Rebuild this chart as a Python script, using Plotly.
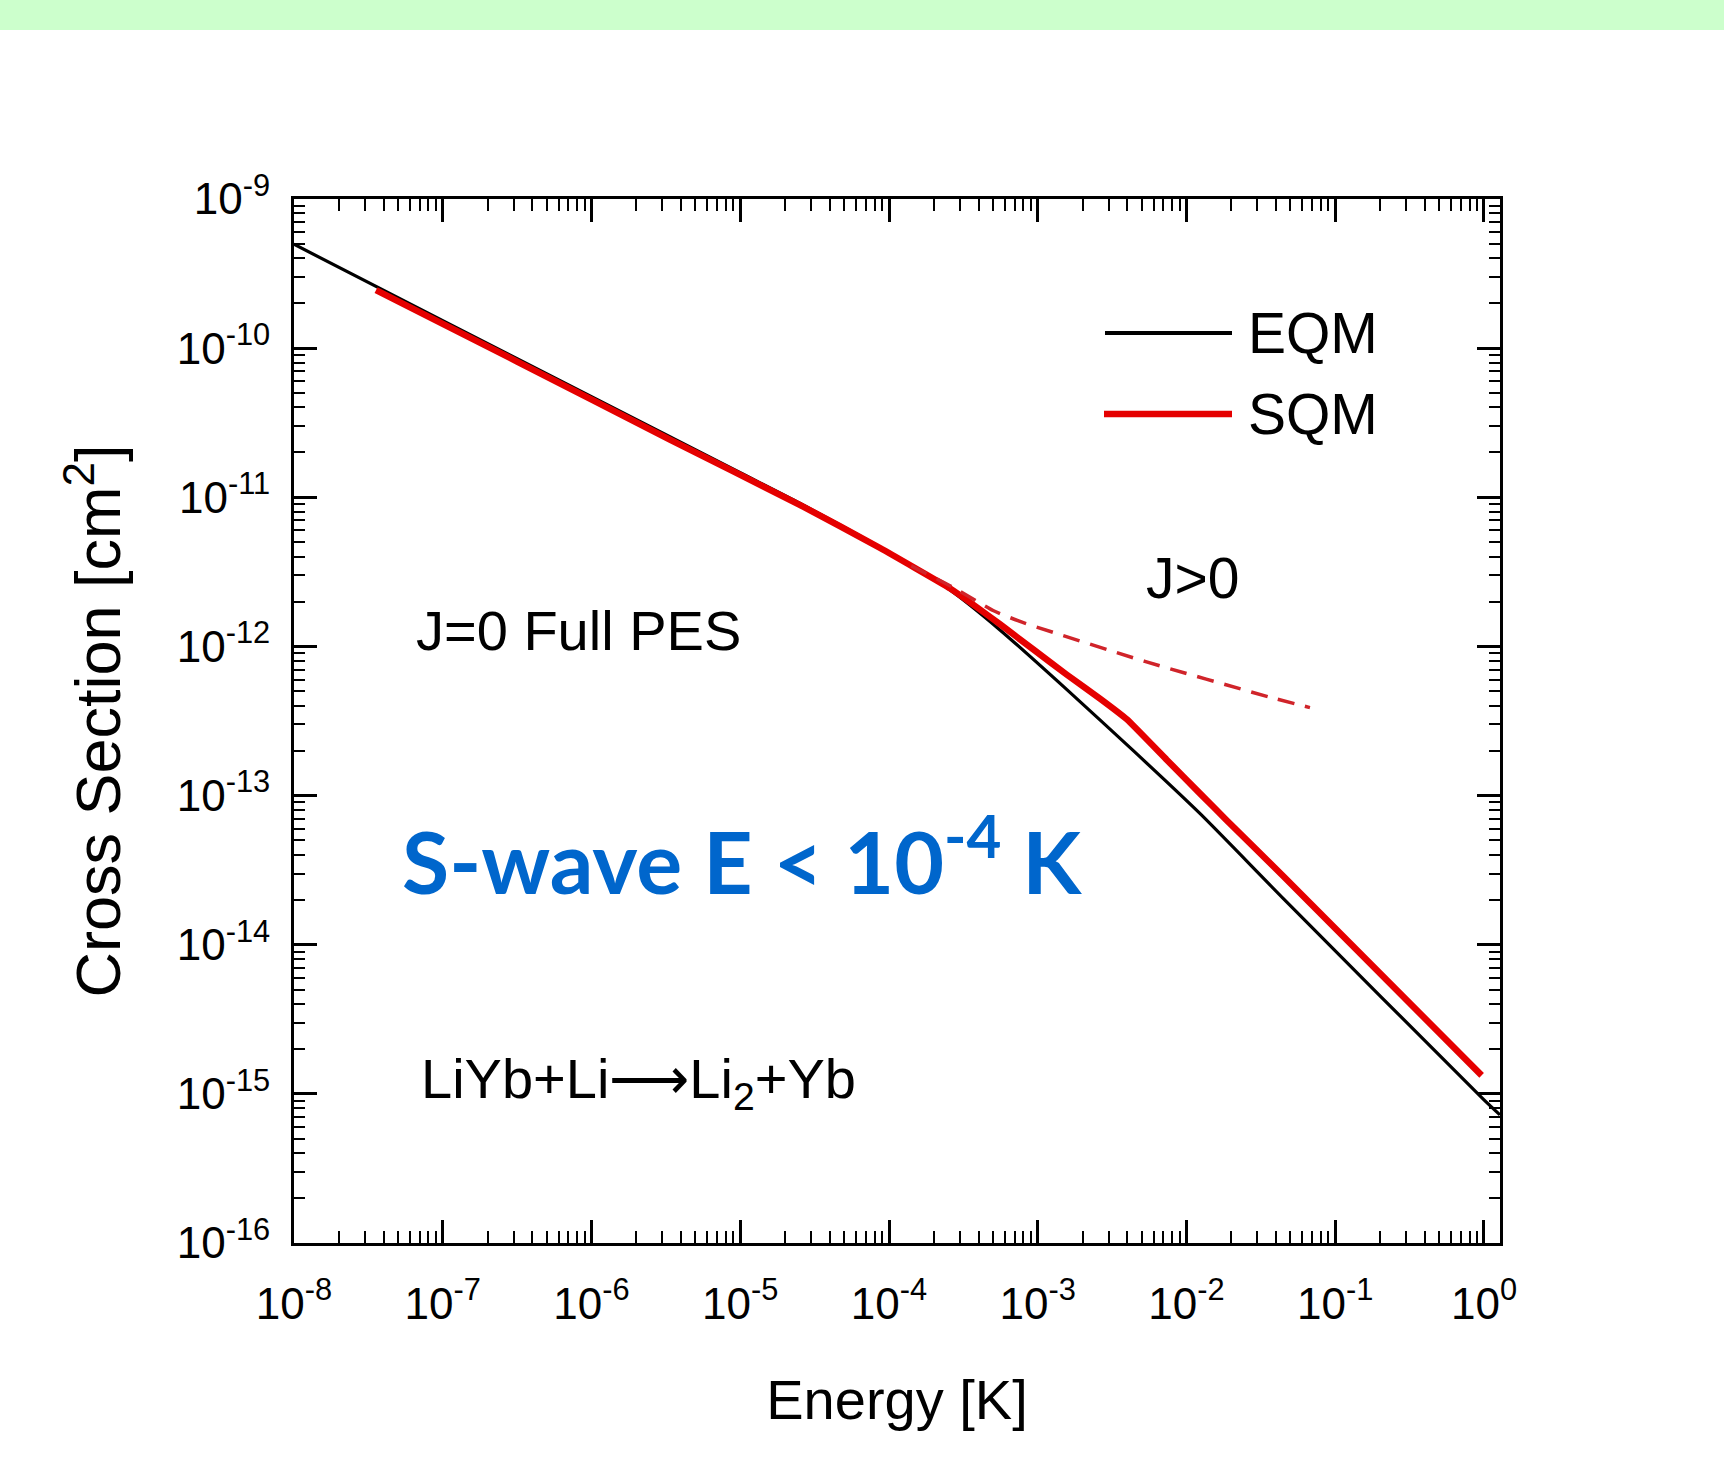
import plotly.graph_objects as go

# ---------------- data ----------------
energy_eqm = [1e-8, 1e-7, 1e-6, 1e-5, 2.51e-5, 1e-4, 2.57e-4, 5.57e-4, 1.57e-3,
              4.39e-3, 1.23e-2, 4.48e-2, 1.0, 1.28]
sigma_eqm = [4.97e-10, 1.53e-10, 4.72e-11, 1.46e-11, 9.12e-12, 4.27e-12, 2.39e-12,
             1.29e-12, 5.13e-13, 2.00e-13, 7.59e-14, 2.04e-14, 9.12e-16, 7.24e-16]

energy_sqm = [3.56e-8, 3.16e-7, 3.39e-6, 2.51e-5, 8.71e-5, 2.57e-4, 5.57e-4, 9.33e-4,
              1.57e-3, 2.62e-3, 3.98e-3, 7.35e-3, 1.23e-2, 1.86e-2, 4.48e-2, 0.964]
sigma_sqm = [2.45e-10, 8.13e-11, 2.43e-11, 8.91e-12, 4.57e-12, 2.45e-12, 1.41e-12,
             9.55e-13, 6.46e-13, 4.47e-13, 3.24e-13, 1.74e-13, 1.035e-13, 6.84e-14,
             2.88e-14, 1.33e-15]

energy_jgt0 = [1.41e-4, 2.82e-4, 5.01e-4, 7.76e-4, 5.25e-3, 3.63e-2, 6.76e-2]
sigma_jgt0 = [3.47e-12, 2.43e-12, 1.74e-12, 1.46e-12, 7.94e-13, 4.57e-13, 3.89e-13]

x_exponents = [-8, -7, -6, -5, -4, -3, -2, -1, 0]
y_exponents = [-16, -15, -14, -13, -12, -11, -10, -9]
x_ticktext = ["10<sup>%d</sup>" % e for e in x_exponents]
y_ticktext = ["10<sup>%d</sup>" % e for e in y_exponents]

# ---------------- styling / geometry ----------------
W, H = 1724, 1464
L, R, T, B = 294, 1500, 199, 1243  # plot area in pixels
NARROW = "Liberation Sans Narrow, Arial Narrow, Liberation Sans, Arial, sans-serif"
REG = "Liberation Sans, Arial, sans-serif"
RED = "#E50000"


def px(xpix):
    return (xpix - L) / (R - L)


def py(ypix):
    return (B - ypix) / (B - T)


def minor_vals(exps):
    out = []
    for e in exps[:-1]:
        for m in range(2, 10):
            out.append(m * 10.0 ** e)
    return out


fig = go.Figure()
fig.add_trace(go.Scatter(x=energy_eqm, y=sigma_eqm, mode="lines", name="EQM",
                         line=dict(color="black", width=3.2, shape="spline", smoothing=0.6),
                         showlegend=False))
fig.add_trace(go.Scatter(x=energy_sqm, y=sigma_sqm, mode="lines", name="SQM",
                         line=dict(color=RED, width=6.5, shape="spline", smoothing=0.3),
                         showlegend=False))
fig.add_trace(go.Scatter(x=energy_jgt0, y=sigma_jgt0, mode="lines", name="J>0",
                         line=dict(color="#D0242A", width=3.5, dash="17px,11px",
                                   shape="spline", smoothing=0.5),
                         showlegend=False))

axis_common = dict(
    type="log", showline=True, linecolor="black", linewidth=3, mirror="allticks",
    ticks="inside", ticklen=23, tickwidth=2.5, tickcolor="black",
    showgrid=False, zeroline=False, tickmode="array",
    tickfont=dict(family=NARROW, size=44, color="black"),
)

fig.update_xaxes(
    **axis_common,
    range=[-8, 0.1076],
    tickvals=[10.0 ** e for e in x_exponents], ticktext=x_ticktext,
    minor=dict(tickmode="array", tickvals=minor_vals(x_exponents + [1]),
               ticks="inside", ticklen=12, tickwidth=2, tickcolor="black", showgrid=False),
    ticklabelstandoff=20,
    title=dict(text="Energy [K]", font=dict(family=NARROW, size=56, color="black"),
               standoff=54),
)
fig.update_yaxes(
    **axis_common,
    range=[-16, -9],
    tickvals=[10.0 ** e for e in y_exponents], ticktext=y_ticktext,
    minor=dict(tickmode="array", tickvals=minor_vals(y_exponents),
               ticks="inside", ticklen=11, tickwidth=2, tickcolor="black", showgrid=False),
    ticklabelstandoff=12,
    title=dict(text="Cross Section [cm<sup>2</sup>]",
               font=dict(family=REG, size=63, color="black"), standoff=36),
)

shapes = [
    # green band at the top of the slide
    dict(type="rect", xref="paper", yref="paper", x0=px(0), x1=px(W), y0=py(30), y1=py(0),
         fillcolor="#CCFFCC", line=dict(width=0), layer="below"),
    # legend samples
    dict(type="line", xref="paper", yref="paper", x0=px(1105), x1=px(1232), y0=py(333), y1=py(333),
         line=dict(color="black", width=4)),
    dict(type="line", xref="paper", yref="paper", x0=px(1104), x1=px(1232), y0=py(414), y1=py(414),
         line=dict(color=RED, width=6.5)),
]

annotations = [
    dict(text="EQM", x=px(1246), y=py(333), xanchor="left", yanchor="middle",
         font=dict(family=NARROW, size=57, color="black")),
    dict(text="SQM", x=px(1246), y=py(414), xanchor="left", yanchor="middle",
         font=dict(family=NARROW, size=57, color="black")),
    dict(text="J>0", x=px(1193), y=py(578), xanchor="center", yanchor="middle",
         font=dict(family=NARROW, size=57, color="black")),
    dict(text="J=0 Full PES", x=px(414), y=py(630), xanchor="left", yanchor="middle",
         font=dict(family=NARROW, size=56, color="black")),
    dict(text="LiYb+Li\u27f6Li<sub>2</sub>+Yb", x=px(419), y=py(1082), xanchor="left",
         yanchor="middle", font=dict(family=NARROW, size=56, color="black")),
    dict(text="<b>S-wave E &lt; 10<sup>-4</sup> K</b>", x=px(400), y=py(855), xanchor="left",
         yanchor="middle", font=dict(family="Lato, Open Sans, sans-serif", size=86, color="#0066CC")),
]
for a in annotations:
    a.update(xref="paper", yref="paper", showarrow=False)

fig.update_layout(
    width=W, height=H,
    margin=dict(l=L, r=W - R, t=T, b=H - B, pad=0),
    paper_bgcolor="white", plot_bgcolor="white",
    shapes=shapes, annotations=annotations, showlegend=False,
)

fig.write_html("out.html")
